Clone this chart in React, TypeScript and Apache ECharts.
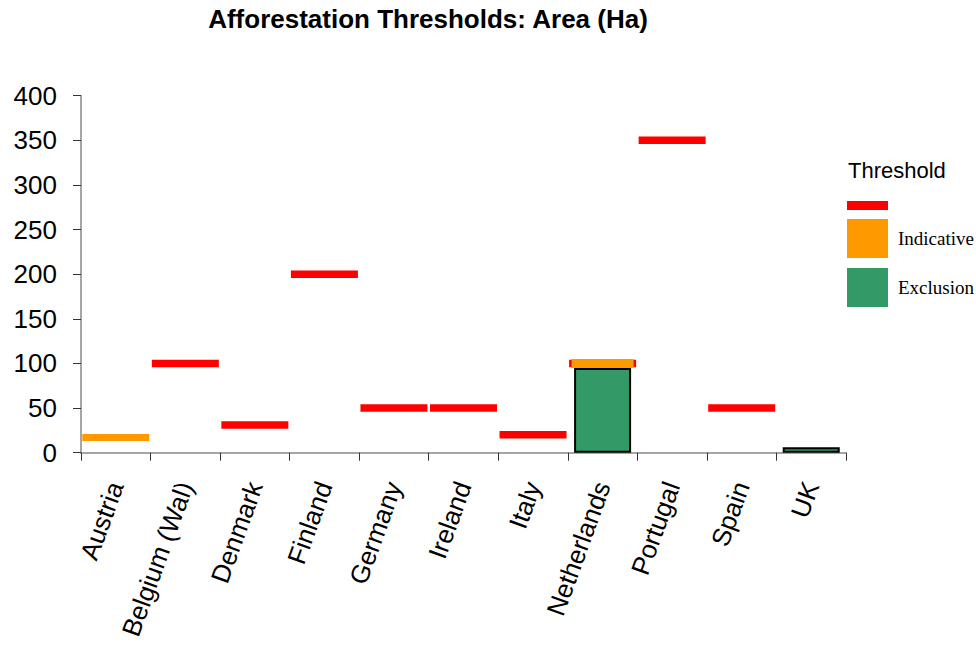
import React, { useEffect, useRef } from "react";
import * as echarts from "echarts";

const categories = ["Austria", "Belgium (Wal)", "Denmark", "Finland", "Germany", "Ireland", "Italy", "Netherlands", "Portugal", "Spain", "UK"];
const thresholdValues = [null, 100, 31, 200, 50, 50, 20, 100, 350, 50, null];
const indicativeValues = [17, null, null, null, null, null, null, 100, null, null, null];
const exclusionValues = [null, null, null, null, null, null, null, 95, null, null, 6];
const yTicks = { min: 0, max: 400, interval: 50 };

const SANS = "'Liberation Sans', Arial, sans-serif";
const SERIF = "'Liberation Serif', 'Times New Roman', serif";

export default function App() {
  const ref = useRef<HTMLDivElement>(null);
  useEffect(() => {
    const chart = echarts.init(ref.current!, undefined, { renderer: "svg" });
    chart.setOption({
      animation: false,
      backgroundColor: "#fff",
      title: [
        {
          text: "Afforestation Thresholds: Area (Ha)",
          left: 428,
          top: 6,
          padding: 0,
          textAlign: "center",
          textStyle: { fontFamily: SANS, fontWeight: "bold", fontSize: 26, color: "#000" },
        },
        {
          text: "Threshold",
          left: 848,
          top: 159,
          padding: 0,
          textStyle: { fontFamily: SANS, fontWeight: "normal", fontSize: 22, color: "#000" },
        },
      ],
      legend: [
        {
          data: ["Threshold"],
          left: 847,
          top: 201,
          padding: 0,
          itemWidth: 41,
          itemHeight: 9,
          icon: "rect",
          formatter: () => "",
          selectedMode: false,
        },
        {
          data: ["Indicative", "Exclusion"],
          orient: "vertical",
          left: 847,
          top: 219,
          padding: 0,
          itemWidth: 41,
          itemHeight: 39,
          itemGap: 10,
          icon: "rect",
          selectedMode: false,
          itemStyle: { borderWidth: 0 },
          textStyle: { fontFamily: SERIF, fontSize: 19, color: "#000", padding: [0, 0, 0, 5] },
        },
      ],
      grid: { left: 81, right: 130, top: 95.7, bottom: 195.3, containLabel: false },
      xAxis: {
        type: "category",
        data: categories,
        boundaryGap: true,
        axisLine: { lineStyle: { color: "#888", width: 1.5 } },
        axisTick: { show: true, length: 8, lineStyle: { color: "#333", width: 1 } },
        axisLabel: {
          interval: 0,
          rotate: 70,
          margin: 30,
          fontFamily: SANS,
          fontSize: 26,
          color: "#000",
        },
        splitLine: { show: false },
      },
      yAxis: {
        type: "value",
        min: yTicks.min,
        max: yTicks.max,
        interval: yTicks.interval,
        axisLine: { show: true, lineStyle: { color: "#888", width: 1.5 } },
        axisTick: { show: true, length: 8, lineStyle: { color: "#333", width: 1 } },
        axisLabel: { margin: 24, fontFamily: SANS, fontSize: 26, color: "#000" },
        splitLine: { show: false },
      },
      series: [
        {
          name: "Exclusion",
          type: "bar",
          data: exclusionValues,
          barWidth: 57,
          z: 2,
          itemStyle: { color: "#339966", borderColor: "#000", borderWidth: 2 },
        },
        {
          name: "Threshold",
          type: "scatter",
          data: thresholdValues,
          symbol: "rect",
          symbolSize: [67, 7.5],
          z: 3,
          itemStyle: { color: "#ff0000", opacity: 1 },
        },
        {
          name: "Indicative",
          type: "scatter",
          data: indicativeValues,
          symbol: "rect",
          symbolSize: (_v: any, p: any) => (p.dataIndex === 7 ? [62, 9] : [67, 7]),
          z: 4,
          itemStyle: { color: "#ff9900", opacity: 1 },
        },
      ],
    });
    return () => chart.dispose();
  }, []);
  return <div ref={ref} style={{ position: "fixed", left: 0, top: 0, width: 976, height: 648 }} />;
}
